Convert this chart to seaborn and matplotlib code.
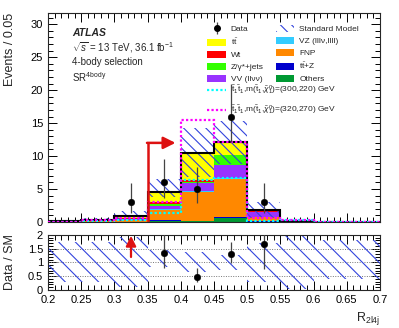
import numpy as np
import pandas as pd
import matplotlib
matplotlib.use("Agg")
import matplotlib.pyplot as plt
from matplotlib.patches import Patch
from matplotlib.lines import Line2D
from matplotlib.ticker import MultipleLocator, FuncFormatter
import seaborn as sns

# binning of R_2l4j
edges = [0.2, 0.25, 0.3, 0.35, 0.4, 0.45, 0.5, 0.55, 0.6, 0.65, 0.7]
centres = [0.225, 0.275, 0.325, 0.375, 0.425, 0.475, 0.525, 0.575, 0.625, 0.675]

# background processes (stack order: first on top)
processes = ["ttbar", "Wt", "Zjets", "VV", "VZ", "FNP", "ttZ", "Others"]
ttbar = [0.02, 0.10, 0.35, 1.50, 4.00, 1.90, 0.20, 0.02, 0.01, 0.01]
wt = [0.00, 0.02, 0.05, 0.30, 0.30, 0.05, 0.10, 0.00, 0.00, 0.00]
zjets = [0.00, 0.02, 0.05, 0.30, 0.15, 1.55, 0.05, 0.00, 0.00, 0.00]
vv = [0.05, 0.08, 0.15, 0.50, 1.30, 2.00, 0.65, 0.04, 0.02, 0.02]
vz = [0.00, 0.00, 0.02, 0.05, 0.05, 0.05, 0.02, 0.00, 0.00, 0.00]
fnp = [0.05, 0.10, 0.25, 1.60, 4.45, 5.80, 0.70, 0.04, 0.02, 0.02]
ttz = [0.00, 0.00, 0.01, 0.05, 0.05, 0.10, 0.02, 0.00, 0.00, 0.00]
others = [0.01, 0.02, 0.02, 0.20, 0.10, 0.65, 0.06, 0.01, 0.00, 0.00]

# relative SM uncertainty (down / up)
unc_dn = [0.70, 0.70, 0.90, 0.17, 0.35, 0.27, 0.70, 0.95, 0.60, 0.60]
unc_up = [0.75, 0.75, 0.92, 0.45, 0.37, 0.27, 0.70, 0.95, 0.80, 0.80]

# signal models
sig_300_220 = [0.05, 0.10, 0.30, 1.30, 6.40, 6.60, 0.10, 0.30, 0.05, 0.05]
sig_320_270 = [0.05, 0.30, 0.60, 3.10, 15.50, 12.20, 0.60, 0.30, 0.05, 0.05]

# observed data with Poisson errors
data_x = [0.325, 0.375, 0.425, 0.475, 0.525]
data_y = [3, 6, 5, 16, 3]
data_lo = [1.63, 2.38, 2.16, 3.94, 1.63]
data_hi = [2.92, 3.58, 3.38, 4.96, 2.92]

colors = {"ttbar": "#ffff00", "Wt": "#ff0000", "Zjets": "#33ff00", "VV": "#9933ff",
          "VZ": "#33ccff", "FNP": "#ff8800", "ttZ": "#0000cc", "Others": "#009933"}
HATCH_COL = "#3344dd"

sns.set_theme(style="ticks")
plt.rcParams["font.family"] = ["Liberation Sans", "DejaVu Sans"]
plt.rcParams["mathtext.fontset"] = "custom"
plt.rcParams["mathtext.rm"] = "Liberation Sans"
plt.rcParams["mathtext.it"] = "Liberation Sans:italic"
plt.rcParams["mathtext.bf"] = "Liberation Sans:bold"
plt.rcParams["hatch.linewidth"] = 0.8

bkg = {"ttbar": ttbar, "Wt": wt, "Zjets": zjets, "VV": vv, "VZ": vz,
       "FNP": fnp, "ttZ": ttz, "Others": others}
rows = []
for p in processes:
    for c, w in zip(centres, bkg[p]):
        rows.append({"x": c, "w": w, "proc": p})
df = pd.DataFrame(rows)

sm = np.sum([bkg[p] for p in processes], axis=0)
sm_dn = sm * (1 - np.array(unc_dn))
sm_up = sm * (1 + np.array(unc_up))

fig = plt.figure(figsize=(3.99, 3.28), dpi=100)
ax = fig.add_axes([0.1203, 0.3232, 0.8321, 0.6372])
rax = fig.add_axes([0.1203, 0.1159, 0.8321, 0.1677])

# stacked backgrounds
sns.histplot(data=df, x="x", weights="w", hue="proc", hue_order=processes,
             palette=colors, multiple="stack", bins=edges, element="bars",
             linewidth=0, alpha=1, legend=False, ax=ax)

ax.stairs(sm_up, edges, baseline=sm_dn, fill=True, facecolor="none",
          edgecolor=HATCH_COL, hatch="\\\\\\", linewidth=0, zorder=3)
ax.stairs(sm, edges, color="black", linewidth=1.5, zorder=4)
ax.stairs(sig_300_220, edges, color="#00ffff", linewidth=1.6,
          linestyle=(0, (1, 1)), zorder=5)
ax.stairs(sig_320_270, edges, color="#ff00ff", linewidth=1.6,
          linestyle=(0, (1, 1)), zorder=5)

ax.errorbar(data_x, data_y, yerr=[data_lo, data_hi], fmt="none",
            ecolor="#444444", elinewidth=0.9, zorder=6)
sns.scatterplot(x=data_x, y=data_y, color="black", s=22, edgecolor="black",
                zorder=7, ax=ax)

# signal region cut arrow
CUT = 0.35
ax.plot([CUT, CUT], [0, 12], color="#dd1111", linewidth=1.8, zorder=8)
ax.annotate("", xy=(0.392, 12), xytext=(CUT - 0.0009, 12),
            arrowprops=dict(arrowstyle="-|>,head_length=0.6,head_width=0.3",
                            color="#dd1111", lw=1.8, shrinkA=0, shrinkB=0),
            zorder=8)

ax.set_xlim(0.2, 0.7)
ax.set_ylim(0, 31.7)
ax.set_xlabel("")
ax.set_ylabel("Events / 0.05", fontsize=9, loc="top")
ax.yaxis.set_major_locator(MultipleLocator(5))
ax.yaxis.set_minor_locator(MultipleLocator(1))
ax.xaxis.set_major_locator(MultipleLocator(0.05))
ax.xaxis.set_minor_locator(MultipleLocator(0.01))
ax.tick_params(labelbottom=False)

for a in (ax, rax):
    a.tick_params(which="both", direction="in", top=True, right=True,
                  labelsize=8, width=0.7, colors="black")
    a.tick_params(which="major", length=6.5)
    a.tick_params(which="minor", length=3.5)
    for s in a.spines.values():
        s.set_linewidth(0.8)

# ATLAS label block
ax.text(0.072, 0.905, "ATLAS", transform=ax.transAxes, fontsize=7.5,
        fontweight="bold", fontstyle="italic", va="center")
ax.text(0.072, 0.835, r"$\sqrt{s}$ = 13 TeV, 36.1 fb$^{-1}$", transform=ax.transAxes,
        fontsize=7, va="center")
ax.text(0.072, 0.765, "4-body selection", transform=ax.transAxes, fontsize=7,
        va="center")
ax.text(0.072, 0.695, r"SR$^{\mathrm{4\!\text{-}\!body}}$", transform=ax.transAxes,
        fontsize=7, va="center")

# legend
h_data = (Line2D([], [], color="#444444", marker="|", markersize=9, linestyle="none",
                 markeredgewidth=0.9),
          Line2D([], [], color="black", marker="o", markersize=4, linestyle="none"))
h_sm = Patch(facecolor="none", edgecolor=HATCH_COL, hatch="\\\\\\", linewidth=0)
labels_c1 = ["Data", r"$\mathrm{t\bar{t}}$", "Wt", "Z/γ*+jets", "VV (llνν)"]
labels_c2 = ["Standard Model", "VZ (lllν,llll)", "FNP", r"$\mathrm{t\bar{t}}$+Z", "Others"]
handles = [h_data] + [Patch(facecolor=colors[p], linewidth=0) for p in ["ttbar", "Wt", "Zjets", "VV"]]
handles += [h_sm] + [Patch(facecolor=colors[p], linewidth=0) for p in ["VZ", "FNP", "ttZ", "Others"]]
leg = ax.legend(handles, labels_c1 + labels_c2, ncol=2, fontsize=6, frameon=False,
                loc="upper left", bbox_to_anchor=(0.48, 0.944), handlelength=2.2,
                handleheight=0.9, columnspacing=1.5, labelspacing=0.44,
                handletextpad=0.6, borderaxespad=0, borderpad=0)
ax.add_artist(leg)

sig_handles = [Line2D([0], [0], color="#00ffff", linewidth=1.6, linestyle=(0, (1, 1))),
               Line2D([0], [0], color="#ff00ff", linewidth=1.6, linestyle=(0, (1, 1)))]
sig_labels = [r"$\mathrm{\tilde{t}_1\tilde{t}_1}$,m($\mathrm{\tilde{t}_1}$,$\tilde{\chi}^0_1$)=(300,220) GeV",
              r"$\mathrm{\tilde{t}_1\tilde{t}_1}$,m($\mathrm{\tilde{t}_1}$,$\tilde{\chi}^0_1$)=(320,270) GeV"]
ax.legend(sig_handles, sig_labels, fontsize=6, frameon=False, loc="upper left",
          bbox_to_anchor=(0.48, 0.658), handlelength=2.2, labelspacing=0.75,
          handletextpad=0.6, borderaxespad=0, borderpad=0)

# ratio panel
ratio_dn = [1 - u for u in unc_dn]
ratio_up = [1 + u for u in unc_up]
rax.stairs(ratio_up, edges, baseline=ratio_dn, fill=True, facecolor="none",
           edgecolor=HATCH_COL, hatch="\\\\", linewidth=0, zorder=2)
for yv in (0.5, 1.0, 1.5):
    rax.axhline(yv, color="#777777", linestyle=(0, (1, 1.5)), linewidth=0.7, zorder=1)

sm_at = {c: s for c, s in zip(centres, sm)}
r_x, r_y, r_lo, r_hi = [], [], [], []
arrow_x = []
for x, y, lo, hi in zip(data_x, data_y, data_lo, data_hi):
    r = y / sm_at[x]
    if r > 2:
        arrow_x.append(x)
        continue
    r_x.append(x)
    r_y.append(r)
    r_lo.append(lo / sm_at[x])
    r_hi.append(hi / sm_at[x])
rax.errorbar(r_x, r_y, yerr=[r_lo, r_hi], fmt="none", ecolor="#444444",
             elinewidth=0.9, zorder=4)
sns.scatterplot(x=r_x, y=r_y, color="black", s=22, edgecolor="black", zorder=5, ax=rax)
for x in arrow_x:
    rax.annotate("", xy=(x, 1.97), xytext=(x, 1.2),
                 arrowprops=dict(arrowstyle="-|>,head_length=0.5,head_width=0.25",
                                 color="#dd1111", lw=1.6, shrinkA=0, shrinkB=0),
                 zorder=6)

rax.set_xlim(0.2, 0.7)
rax.set_ylim(0, 2)
rax.xaxis.set_major_locator(MultipleLocator(0.05))
rax.xaxis.set_minor_locator(MultipleLocator(0.01))
rax.yaxis.set_major_locator(MultipleLocator(0.5))
rax.yaxis.set_minor_locator(MultipleLocator(0.1))
rax.xaxis.set_major_formatter(FuncFormatter(lambda v, p: f"{v:g}"))
rax.yaxis.set_major_formatter(FuncFormatter(lambda v, p: f"{v:g}"))
rax.set_ylabel("Data / SM", fontsize=9)
rax.set_xlabel(r"R$_{\mathrm{2l4j}}$", fontsize=9, loc="right")
rax.yaxis.set_label_coords(-0.095, 0.5)
ax.yaxis.set_label_coords(-0.095, 1.0)

fig.savefig("out.png", dpi=100)
